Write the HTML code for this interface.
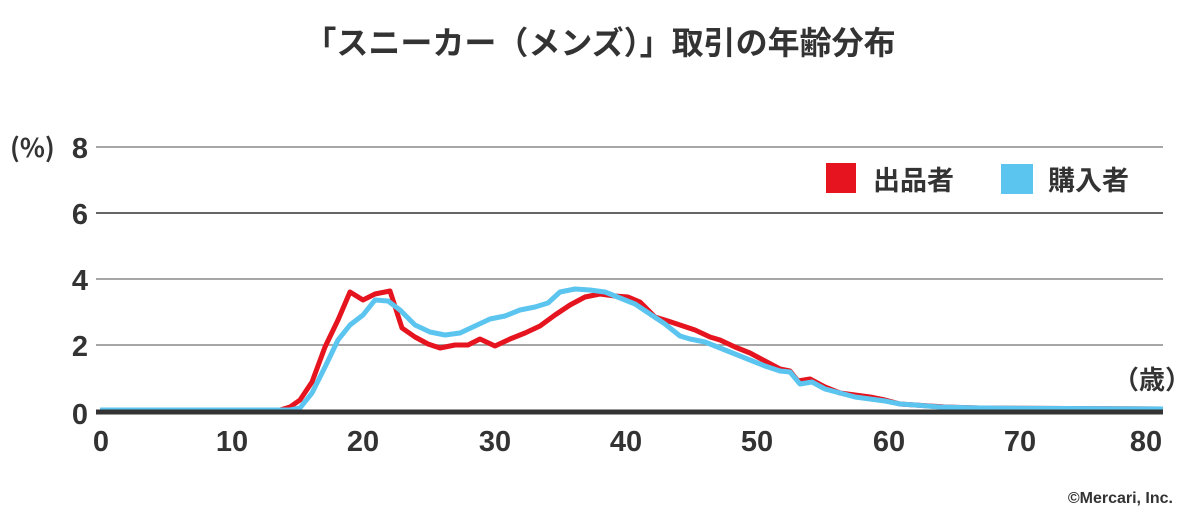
<!DOCTYPE html>
<html><head><meta charset="utf-8"><style>
html,body{margin:0;padding:0;background:#fff;}
svg{display:block;}
text{font-family:"Liberation Sans","Noto Sans CJK JP",sans-serif;fill:#333;}
</style></head><body>
<svg width="1200" height="520" viewBox="0 0 1200 520">
<text x="600" y="54" font-size="32" font-weight="bold" text-anchor="middle" style="font-family:'Noto Sans CJK JP',sans-serif">「スニーカー（メンズ）」取引の年齢分布</text>
<g stroke="#888" stroke-width="1.5">
<line x1="96" y1="147" x2="1163" y2="147"/>
<line x1="96" y1="213" x2="1163" y2="213" stroke="#333"/>
<line x1="96" y1="279" x2="1163" y2="279"/>
<line x1="96" y1="345" x2="1163" y2="345"/>
</g>
<g font-size="29" font-weight="bold" text-anchor="end">
<text x="88" y="158">8</text>
<text x="88" y="224">6</text>
<text x="88" y="290">4</text>
<text x="88" y="356">2</text>
<text x="88" y="424">0</text>
</g>
<text x="10" y="157" font-size="26" font-weight="bold" style="font-family:'Noto Sans CJK JP',sans-serif">(%)</text>
<g font-size="29" font-weight="bold" text-anchor="middle">
<text x="101" y="451">0</text>
<text x="232" y="451">10</text>
<text x="363" y="451">20</text>
<text x="495" y="451">30</text>
<text x="626" y="451">40</text>
<text x="757" y="451">50</text>
<text x="889" y="451">60</text>
<text x="1020" y="451">70</text>
<text x="1146" y="451">80</text>
</g>
<text x="1113" y="389" font-size="26" font-weight="bold" style="font-family:'Noto Sans CJK JP',sans-serif">（歳）</text>
<g fill="none" stroke-width="5" stroke-linejoin="round">
<polyline stroke="#e5141e" points="100,410 280,410 290,407 300,400 312,382 325,347 338,320 350,292 363,300 375,294 390,291 402,328 415,337 428,344 440,348 455,345 468,345 480,339 495,346 510,339 525,333 540,326 555,315 570,305 585,297 600,294 615,296 628,297 640,302 655,317 668,321 680,325 695,330 710,337 720,340 735,347 750,353 765,361 780,369 790,371 798,381 810,379 825,387 840,393 855,395 870,397 885,400 900,404 915,405 930,406 945,407 980,408 1163,409"/>
<polyline stroke="#5bc5ef" points="100,410 290,410 300,408 312,393 325,367 338,340 350,325 363,315 375,300 388,301 400,310 415,325 430,332 445,335 460,333 475,326 490,319 505,316 520,310 535,307 548,303 560,292 575,289 590,290 605,292 620,298 635,304 650,314 665,324 680,336 690,339 705,342 720,348 735,354 750,360 765,366 780,371 790,372 800,384 812,382 825,389 840,393 855,397 870,399 885,401 900,404 915,405 940,407 980,408 1163,409"/>
</g>
<line x1="96" y1="412" x2="1163" y2="412" stroke="#333" stroke-width="5"/>
<rect x="826" y="163" width="30" height="30" fill="#e5141e"/>
<text x="873" y="190" font-size="27" font-weight="bold" style="font-family:'Noto Sans CJK JP',sans-serif">出品者</text>
<rect x="1001" y="164" width="32" height="30" fill="#5bc5ef"/>
<text x="1048" y="190" font-size="27" font-weight="bold" style="font-family:'Noto Sans CJK JP',sans-serif">購入者</text>
<text x="1173" y="503" font-size="16" font-weight="bold" text-anchor="end">©Mercari, Inc.</text>
</svg>
</body></html>
